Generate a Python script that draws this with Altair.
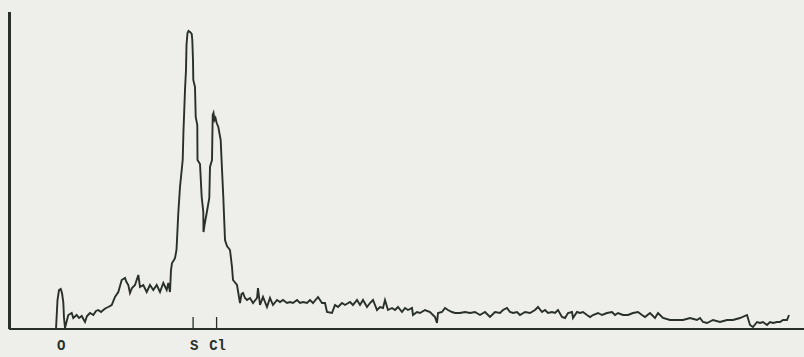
import altair as alt
import pandas as pd

# EDS spectrum: detector channel (74.6 channels per keV) and counts
channel = [19, 35, 36.5, 38, 39.7, 41, 42.3, 43, 44, 45.5, 47.3, 50.7, 52.3, 55.7, 58, 60.7,
           64, 66, 69, 72.3, 75, 77.3, 80, 82.3, 85, 87.3, 90.7, 94, 97.3, 100.7, 104, 105.5,
           107.3, 109, 111, 114, 117.3, 119, 122.3, 125.7, 129, 132.3, 135.7, 139, 142.3, 145.7,
           147.3, 149, 150, 151, 153, 154, 155.5, 156, 157.3, 159, 161.7, 162.5, 163, 164, 165,
           165.5, 166.5, 167.5, 169, 170.7, 171.3, 172, 172.3, 174, 174.7, 176.3, 176.5, 179,
           180.7, 182.3, 182.5, 183.5, 185.7, 188.3, 189, 191, 191.7, 192.5, 193.5, 194.5, 195.7,
           197.3, 199.7, 200.7, 202.3, 204, 206, 209, 211, 212, 216, 219, 220.5, 222, 224, 226,
           229, 232, 236, 237, 239, 242, 246, 249, 252, 256, 259, 262, 266, 269, 272, 276, 279,
           282, 286, 289, 292, 297, 301, 304, 306, 311, 314, 317, 321, 324, 329, 332, 336, 339,
           342, 346, 349, 352, 356, 359, 362, 364, 367, 371, 374, 377, 381, 384, 387, 391, 392,
           396, 399, 404, 409, 414, 416, 417, 421, 424, 427, 431, 434, 439, 444, 449, 454, 459,
           464, 469, 474, 479, 482, 486, 489, 492, 496, 499, 504, 509, 514, 517, 521, 524, 527,
           531, 534, 537, 541, 544, 547, 551, 552, 556, 559, 562, 566, 569, 572, 577, 581, 586,
           591, 594, 597, 602, 607, 612, 617, 621, 624, 629, 634, 637, 642, 649, 656, 662, 669,
           676, 679, 682, 686, 692, 699, 706, 712, 719, 726, 729, 732, 736, 739, 742, 746, 749,
           752, 756, 759, 762, 766, 768]
counts = [0, 0, 29, 39, 40, 36, 27, 11, 1, 7, 14, 16, 11, 14, 11, 13,
          7, 13, 16, 14, 18, 19, 17, 19, 21, 22, 24, 32, 37, 49, 51, 47,
          44, 36, 41, 44, 54, 42, 44, 37, 44, 39, 44, 37, 46, 39,
          46, 37, 59, 66, 69, 71, 79, 89, 116, 142, 169, 199, 212, 239, 259,
          284, 296, 298, 297, 295, 289, 269, 249, 242, 212, 204, 169, 165,
          132, 117, 97, 104, 116, 131, 162, 169, 214, 216, 209, 211, 206,
          202, 189, 166, 132, 89, 83, 79, 62, 49, 44, 26, 35, 36, 31, 29,
          31, 26, 31, 41, 24, 32, 22, 31, 24, 29, 27, 29, 26, 27, 26, 29, 26,
          27, 26, 29, 26, 32, 26, 26, 17, 16, 24, 22, 26, 24, 27, 24, 29, 24,
          29, 22, 26, 29, 19, 22, 21, 29, 19, 21, 19, 22, 17, 21, 19, 21, 14,
          17, 16, 19, 17, 12, 6, 16, 17, 21, 19, 17, 16, 16, 17, 16, 17, 14,
          17, 12, 17, 16, 19, 21, 17, 16, 17, 14, 17, 16, 19, 22, 17, 19, 16,
          17, 16, 19, 12, 11, 16, 17, 11, 17, 16, 17, 14, 12, 14, 16, 14, 16,
          17, 14, 16, 14, 14, 16, 17, 14, 12, 16, 11, 16, 11, 9, 9, 9, 11,
          9, 11, 7, 6, 9, 7, 9, 9, 11, 14, 4, 2, 7, 6, 7, 4, 7,
          6, 7, 7, 9, 9, 14]

# Element lines (keV) marked under the spectrum
elements = ["O", "S", "Cl"]
energies_kev = [0.525, 2.307, 2.622]
has_tick = [False, True, True]
CHANNELS_PER_KEV = 74.6

spectrum = pd.DataFrame({"channel": channel, "counts": counts, "i": range(len(channel))})
lines = pd.DataFrame({
    "element": elements,
    "channel": [e * CHANNELS_PER_KEV for e in energies_kev],
    "tick": has_tick,
})

W, H = 795, 317
INK = "#283029"
xs = alt.Scale(domain=[-12, 783], nice=False, zero=False)
ys = alt.Scale(domain=[0, 317], nice=False)

trace = alt.Chart(spectrum).mark_line(color=INK, strokeWidth=1.9, strokeJoin="miter").encode(
    x=alt.X("channel:Q", scale=xs, axis=None),
    y=alt.Y("counts:Q", scale=ys, axis=None),
    order="i:Q",
)

y_axis = alt.Chart(spectrum).mark_rule(color=INK, strokeWidth=2).encode(
    x=alt.value(0.5), y=alt.value(0), y2=alt.value(H)
)
x_axis = alt.Chart(spectrum).mark_rule(color=INK, strokeWidth=2).encode(
    x=alt.value(0), x2=alt.value(W), y=alt.value(H)
)

ticks = alt.Chart(lines).transform_filter("datum.tick").mark_rule(
    color=INK, strokeWidth=1.3
).encode(
    x=alt.X("channel:Q", scale=xs, axis=None),
    y=alt.value(H - 12),
    y2=alt.value(H),
)

labels = alt.Chart(lines).mark_text(
    font="Liberation Mono", fontSize=14, fontWeight="bold", color=INK,
    baseline="middle", align="center", dx=1
).encode(
    x=alt.X("channel:Q", scale=xs, axis=None),
    y=alt.value(H + 17),
    text="element:N",
)

chart = alt.layer(y_axis, x_axis, trace, ticks, labels).properties(
    width=W,
    height=H,
    autosize=alt.AutoSizeParams(type="none"),
    padding={"left": 9, "top": 12, "right": 0, "bottom": 28},
    background="#eeeeeb",
).configure_view(stroke=None)

chart.save("out.html", embed_options={"renderer": "svg", "actions": False})
